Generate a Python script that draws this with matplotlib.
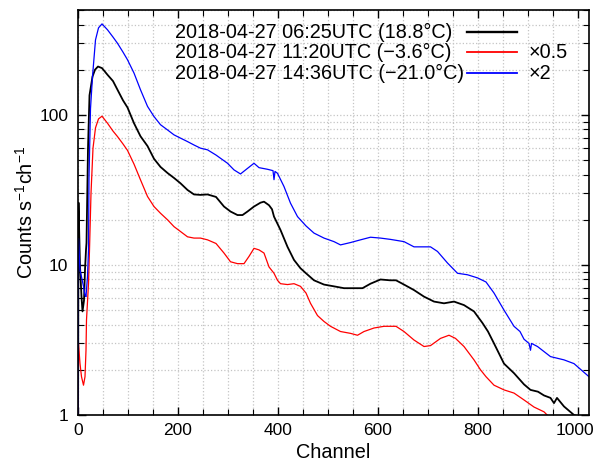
import matplotlib
matplotlib.use("Agg")
import matplotlib.pyplot as plt
from matplotlib.ticker import FixedLocator, MultipleLocator, NullFormatter, LogLocator
from matplotlib.lines import Line2D
from matplotlib.transforms import ScaledTranslation

plt.rcParams['font.family'] = ['Liberation Sans', 'DejaVu Sans']
plt.rcParams['mathtext.default'] = 'regular'

# ---- data (plotted values; red already x0.5, blue already x2) ----
black_ch = [0, 1, 4, 7, 9, 12, 14, 16, 17, 20, 23, 29, 34, 40, 48, 59, 70, 79, 90, 99,
            112, 125, 139, 152, 165, 179, 192, 205, 219, 232, 245, 259, 276, 292, 305,
            319, 329, 339, 352, 365, 372, 382, 388, 392, 405, 419, 432, 445, 456, 472,
            492, 512, 532, 552, 569, 585, 605, 624, 636, 652, 672, 692, 712, 732, 752,
            772, 792, 809, 820, 832, 852, 872, 892, 905, 920, 932, 945, 952, 958, 972,
            992, 1000, 1010, 1022]
black_val = [0.5, 26, 9.8, 6.15, 4.9, 5.8, 9.3, 12.6, 14, 60, 135, 180, 200, 210, 205, 185,
             168, 147, 125, 112, 88, 72, 62, 51, 45, 41, 38, 35, 31.6, 29.5, 29.3, 29.5,
             28.4, 24.5, 22.7, 21.5, 21.5, 22.7, 24.5, 26, 26.4, 25, 23.5, 21, 17.1, 13.2,
             10.8, 9.5, 8.8, 7.9, 7.4, 7.2, 7.0, 7.0, 7.0, 7.5, 8.0, 7.9, 7.9, 7.4, 6.8,
             6.15, 5.7, 5.55, 5.7, 5.4, 4.9, 4.1, 3.6, 3.0, 2.2, 1.9, 1.6, 1.47, 1.43,
             1.35, 1.3, 1.2, 1.3, 1.14, 1.0, 0.98, 0.9, 0.85]

red_ch = [0, 1, 4, 7, 11, 14, 16, 17, 21, 23, 26, 30, 35, 41, 48, 59, 70, 79, 90, 99,
          112, 125, 139, 152, 165, 179, 192, 205, 219, 232, 245, 259, 276, 292, 305, 319,
          332, 342, 352, 362, 372, 382, 392, 399, 405, 419, 432, 445, 456, 465, 479, 492,
          505, 525, 545, 559, 572, 592, 612, 636, 652, 672, 692, 705, 725, 742, 755, 772,
          792, 805, 816, 832, 852, 872, 892, 912, 932, 945, 960, 1000, 1022]
red_val = [0.5, 3.0, 2.2, 1.8, 1.58, 1.8, 2.7, 4.3, 7.5, 12.6, 30, 60, 82, 94, 98, 88, 78,
           71.7, 64, 58, 47, 36.9, 28.6, 24.5, 22.1, 20, 18, 16.7, 15.4, 15.1, 15.1, 14.7,
           13.9, 12, 10.5, 10.2, 10.2, 11.4, 12.9, 12.6, 12, 9.7, 8.8, 7.9, 7.5, 7.4, 7.5,
           7.2, 6.5, 5.55, 4.6, 4.2, 3.9, 3.6, 3.5, 3.4, 3.6, 3.8, 3.9, 3.9, 3.6, 3.16,
           2.86, 2.9, 3.24, 3.4, 3.24, 2.86, 2.33, 2.0, 1.8, 1.58, 1.47, 1.4, 1.26, 1.13,
           1.05, 0.95, 0.85, 0.75, 0.7]

blue_ch = [0, 1, 4, 11, 14, 16, 19, 21, 22, 25, 29, 35, 41, 48, 59, 70, 79, 90, 99, 112,
           125, 139, 152, 165, 179, 192, 205, 219, 232, 245, 259, 276, 285, 299, 312, 325,
           339, 352, 362, 379, 390, 392, 394, 399, 412, 425, 439, 456, 472, 492, 512, 525,
           545, 565, 585, 605, 625, 652, 672, 692, 705, 719, 739, 759, 779, 799, 816, 832,
           852, 872, 884, 892, 902, 905, 907, 919, 945, 972, 992, 1010, 1022]
blue_val = [0.5, 15, 9.3, 7.2, 6.3, 6.15, 8.4, 12.6, 38, 110, 180, 316, 380, 404, 369, 330,
            300, 262, 233, 190, 147, 114, 97.5, 86, 79.4, 73.6, 70, 66.4, 63, 60, 58.5, 54,
            51.4, 47.6, 43, 40.4, 44, 47.6, 44.5, 43.4, 42.5, 37, 42, 40.8, 33.3, 25.8, 21,
            18.2, 16.3, 15.1, 14.3, 13.6, 14.1, 14.7, 15.3, 15.1, 14.8, 14.3, 13.2, 13.2,
            13.2, 12.3, 10.3, 8.8, 8.6, 8.2, 7.7, 6.5, 5.0, 3.9, 3.6, 3.2, 3.0, 2.7, 3.0,
            2.86, 2.45, 2.33, 2.2, 1.95, 1.8]

labels = ["2018-04-27 06:25UTC (18.8\u00b0C)",
          "2018-04-27 11:20UTC (\u22123.6\u00b0C)",
          "2018-04-27 14:36UTC (\u221221.0\u00b0C)"]
scales = ["", "\u00d70.5", "\u00d72"]
colors = ["black", "red", "blue"]
widths = [1.3, 0.9, 0.9]

fig = plt.figure(figsize=(5.96, 4.63), dpi=100)
ax = fig.add_axes([78/596, 48/463, 511/596, 405/463])

series = [(black_ch, black_val), (red_ch, red_val), (blue_ch, blue_val)]
for (ch, val), c, lw in zip(series, colors, widths):
    ax.plot(ch, val, color=c, lw=lw)

ax.set_yscale('log')
ax.set_xlim(0, 1022)
ax.set_ylim(1, 500)

ax.xaxis.set_major_locator(MultipleLocator(200))
ax.xaxis.set_minor_locator(MultipleLocator(50))
ax.yaxis.set_major_locator(FixedLocator([1, 10, 100]))
ax.yaxis.set_minor_locator(LogLocator(base=10, subs=range(2, 10)))
ax.yaxis.set_minor_formatter(NullFormatter())
ax.set_yticklabels(["1", "10", "100"])

ax.tick_params(which='both', direction='in', top=True, right=True, labelsize=12.5)
ax.tick_params(which='major', length=6, width=1)
ax.tick_params(which='minor', length=4, width=0.8)
ax.tick_params(axis='x', which='major', pad=6)
ax.tick_params(axis='y', which='major', pad=7)
ax.grid(True, which='both', color='#c4c4c4', linestyle=':', linewidth=0.9)
for s in ax.spines.values():
    s.set_linewidth(1.2)

ax.set_xlabel("Channel", fontsize=14.3, labelpad=3)
ax.set_ylabel("Counts s$^{-1}$ch$^{-1}$", fontsize=14.3, labelpad=2)

# nudge the last x tick label slightly left so it stays inside the figure
fig.canvas.draw()
xt = ax.get_xticklabels()
for t in xt:
    if t.get_text() == "1000":
        t.set_transform(t.get_transform() + ScaledTranslation(-3/100, 0, fig.dpi_scale_trans))

# legend (custom layout: text, line sample, scale factor)
row_y = [0.9457, 0.896, 0.844]
for lab, sc, c, lw, y in zip(labels, scales, colors, widths, row_y):
    ax.text(0.19, y, lab, transform=ax.transAxes, fontsize=14.3, va='center', ha='left')
    ax.add_line(Line2D([0.761, 0.859], [y, y], transform=ax.transAxes, color=c, lw=lw + 0.4))
    if sc:
        ax.text(0.881, y, sc, transform=ax.transAxes, fontsize=14.3, va='center', ha='left')

fig.savefig("out.png", dpi=100)
